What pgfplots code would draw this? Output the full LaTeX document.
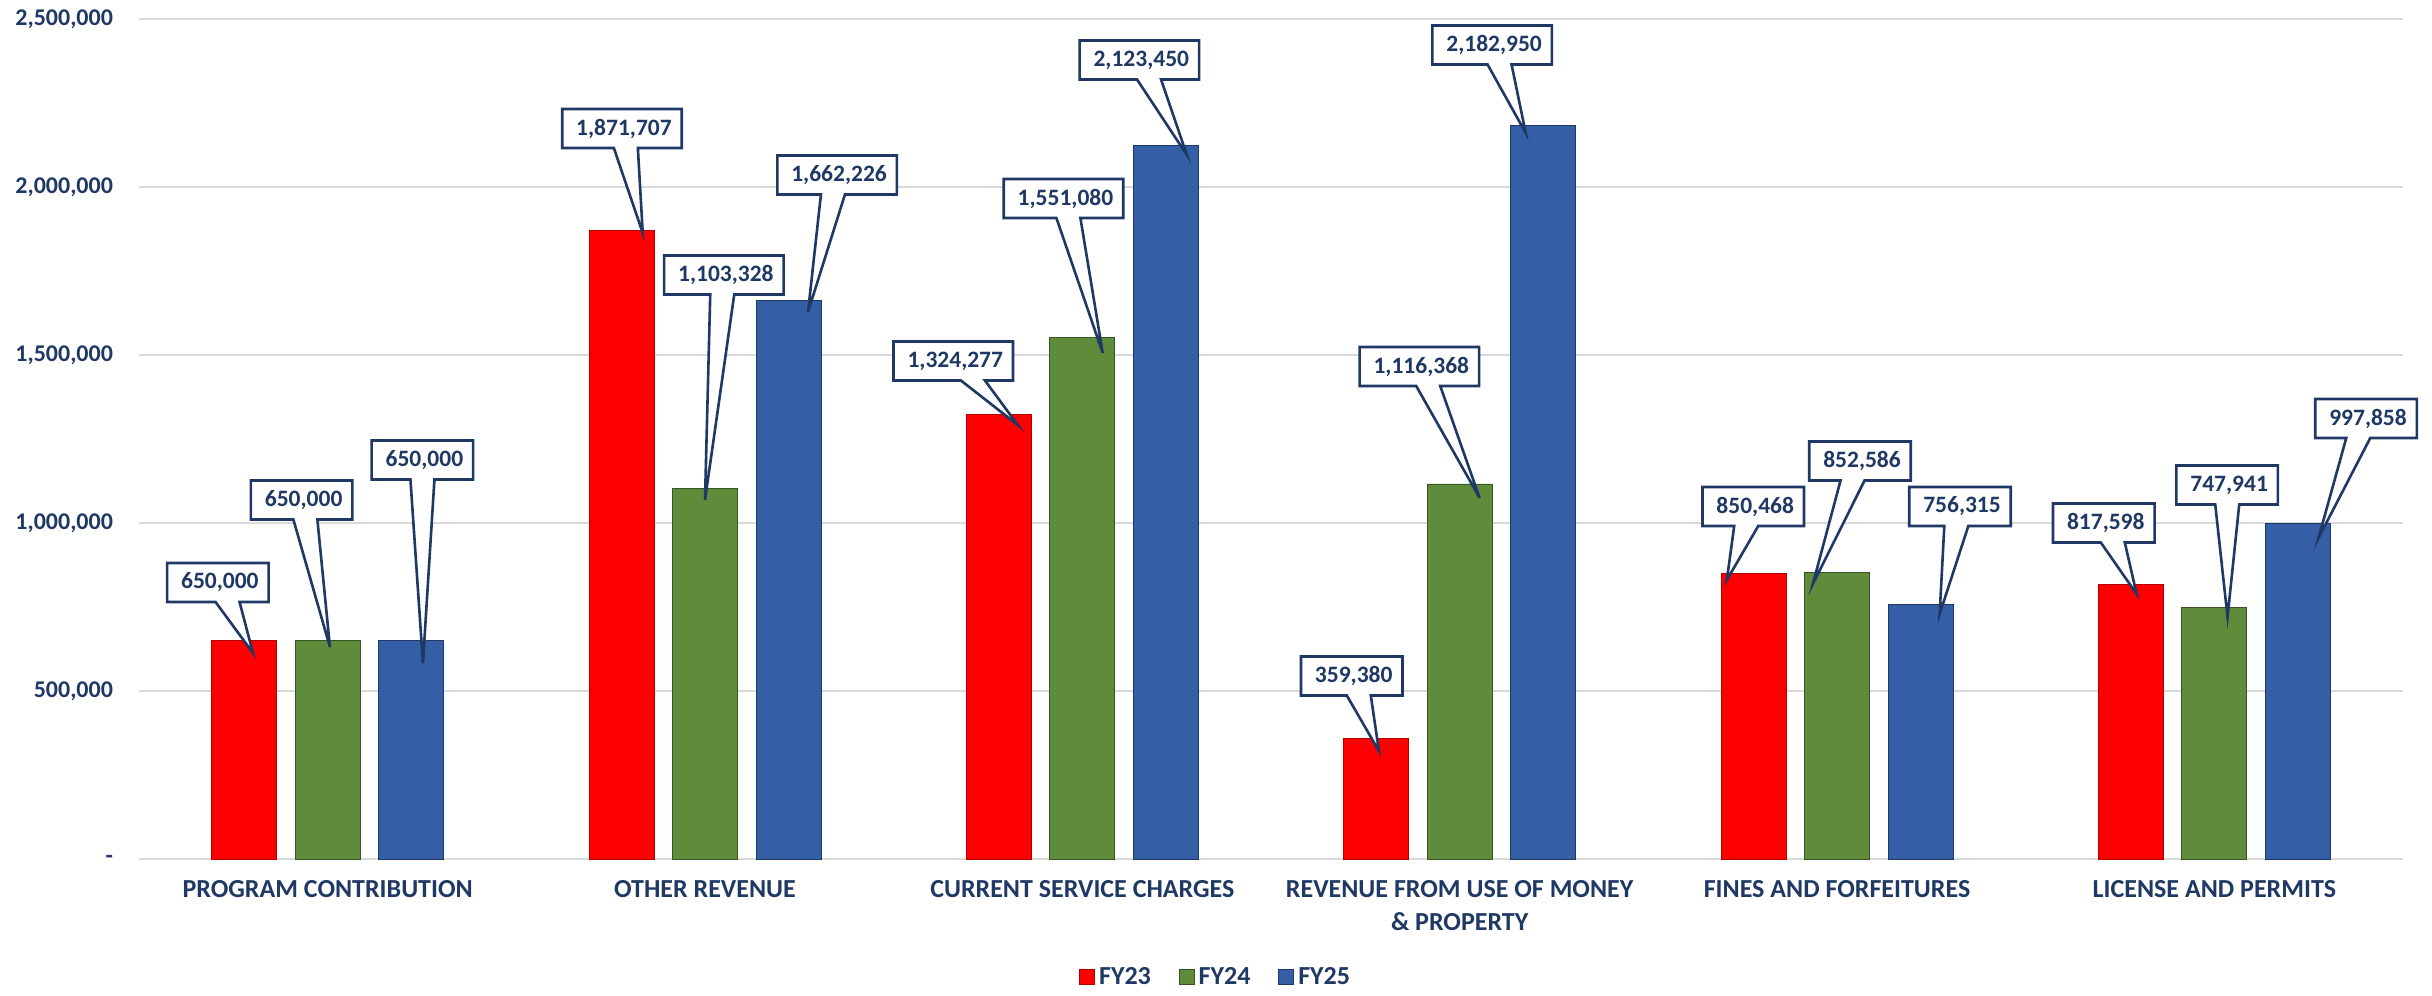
\documentclass[border=0pt]{standalone}
\usepackage{pgfplots}
\pgfplotsset{compat=1.18}
\usepackage{fontspec}
\setmainfont{Carlito}
\usetikzlibrary{shapes.callouts}

\definecolor{navy}{HTML}{1F3864}
\definecolor{fyred}{HTML}{FF0000}
\definecolor{fygreen}{HTML}{5E8C3A}
\definecolor{fyblue}{HTML}{345FA6}
\definecolor{gridgray}{HTML}{D9D9D9}

\newcommand\co[5]{\node[co, callout absolute pointer={(axis cs:#3,#4)}] at (axis cs:#1,#2) {\hspace*{2pt}#5};}

\begin{document}
\begin{tikzpicture}[
  co/.style={rectangle callout, draw=navy, line width=1.3pt, fill=white, text=navy,
    font=\fontsize{11.75}{14}\selectfont\bfseries, inner xsep=5pt, inner ysep=0pt,
    minimum height=19.5pt, callout pointer width=12pt}]
\begin{axis}[
  width=1132pt, height=420pt, scale only axis,
  ybar=9.25pt, bar width=32.5pt,
  xmin=-0.5, xmax=5.5, ymin=0, ymax=2500000,
  enlargelimits=false, clip=false, scaled y ticks=false,
  axis line style={draw=none}, major tick length=0pt,
  ymajorgrids, grid style={gridgray, line width=1pt},
  ytick={0,500000,1000000,1500000,2000000,2500000},
  yticklabels={{-\hspace{6pt}},{500,000},{1,000,000},{1,500,000},{2,000,000},{2,500,000}},
  yticklabel style={font=\fontsize{12}{14}\selectfont\bfseries, text=navy, xshift=-9.5pt},
  xtick={0,1,2,3,4,5},
  xticklabels={{PROGRAM CONTRIBUTION},{OTHER REVENUE},{CURRENT SERVICE CHARGES},
    {REVENUE FROM USE OF MONEY\\\& PROPERTY},{FINES AND FORFEITURES},{LICENSE AND PERMITS}},
  xticklabel style={font=\fontsize{13}{16.5}\selectfont\bfseries, text=navy, align=center, yshift=-7pt},
  legend columns=3,
  legend style={at={(0.476,-0.1405)}, anchor=center, draw=none,
    font=\fontsize{13}{15}\selectfont\bfseries, text=navy,
    /tikz/every even column/.append style={column sep=12pt}},
  legend image code/.code={\path[#1] (0pt,-3.75pt) rectangle (7.5pt,3.75pt);},
]
\addplot[fill=fyred, draw=fyred!70!black, line width=0.4pt] coordinates
  {(0,650000) (1,1871707) (2,1324277) (3,359380) (4,850468) (5,817598)};
\addlegendentry{FY23}
\addplot[fill=fygreen, draw=fygreen!60!black, line width=0.4pt] coordinates
  {(0,650000) (1,1103328) (2,1551080) (3,1116368) (4,852586) (5,747941)};
\addlegendentry{FY24}
\addplot[fill=fyblue, draw=fyblue!60!black, line width=0.4pt] coordinates
  {(0,650000) (1,1662226) (2,2123450) (3,2182950) (4,756315) (5,997858)};
\addlegendentry{FY25}

% callouts: box centre, pointer tip, text
\co{-0.291}{822900}{-0.198}{613100}{650,000}
\co{-0.069}{1068400}{0.006}{630900}{650,000}
\co{0.251}{1187500}{0.2525}{583300}{650,000}
\co{0.780}{2174000}{0.835}{1863000}{1,871,707}
\co{1.050}{1738000}{1.000}{1068400}{1,103,328}
\co{1.350}{2035700}{1.273}{1628000}{1,662,226}
\co{1.658}{1482100}{1.829}{1291600}{1,324,277}
\co{1.950}{1965700}{2.054}{1505900}{1,551,080}
\co{2.151}{2377900}{2.277}{2095200}{2,123,450}
\co{2.714}{544600}{2.786}{321400}{359,380}
\co{2.893}{1465700}{3.053}{1074400}{1,116,368}
\co{3.086}{2422500}{3.175}{2160700}{2,182,950}
\co{3.778}{1049000}{3.708}{830300}{850,468}
\co{4.061}{1184500}{3.936}{818400}{852,586}
\co{4.326}{1049000}{4.272}{729100}{756,315}
\co{4.707}{1000000}{4.794}{788700}{817,598}
\co{5.034}{1113100}{5.035}{720200}{747,941}
\co{5.402}{1311000}{5.276}{955300}{997,858}
\end{axis}
\path ([shift={(-69.5pt,-68pt)}]current axis.south west) rectangle ([shift={(14.5pt,9.5pt)}]current axis.north east);
\end{tikzpicture}
\end{document}
